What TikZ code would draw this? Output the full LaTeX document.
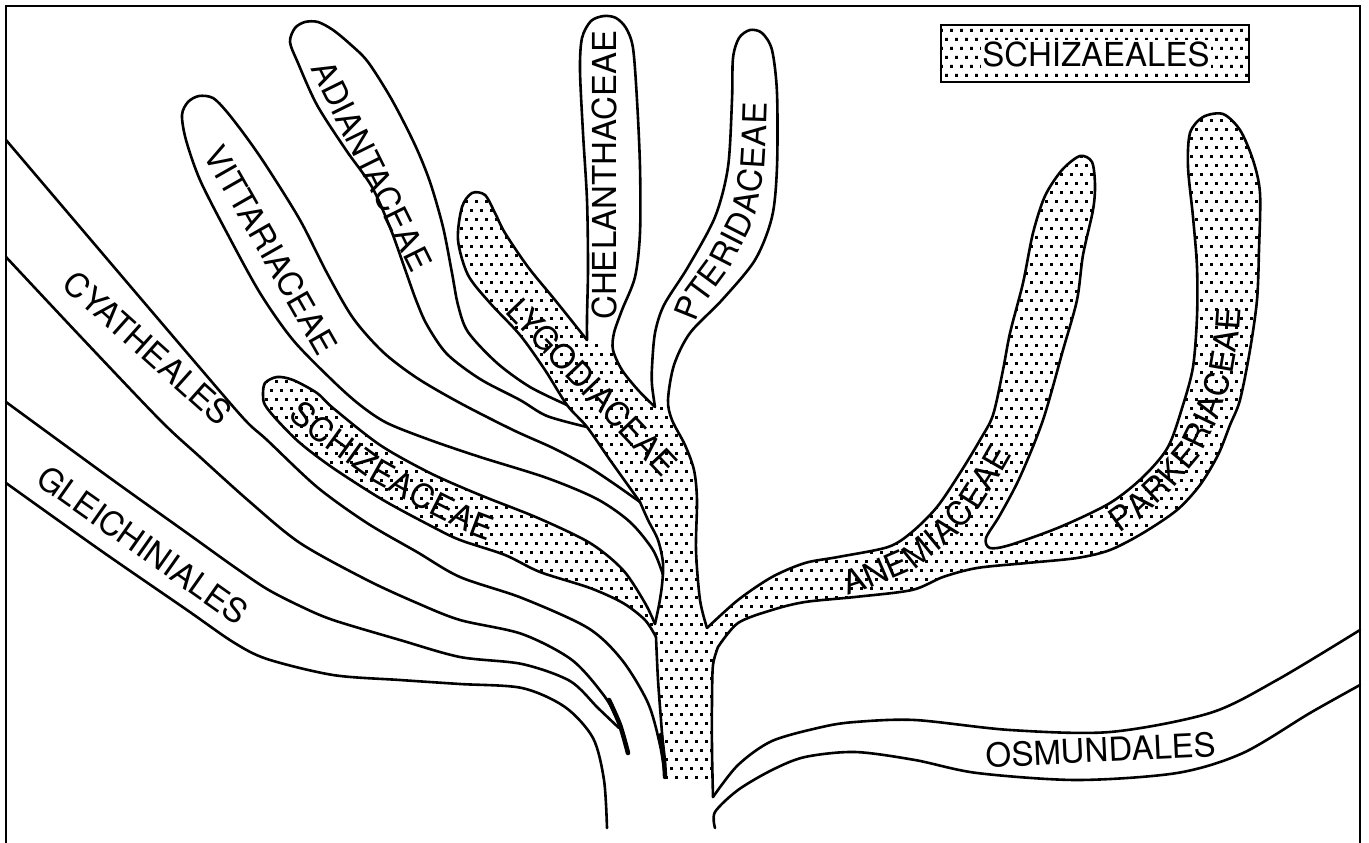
\documentclass[tikz,border=0pt]{standalone}
\usepackage{fontspec}
\setsansfont{TeX Gyre Heros}
\usetikzlibrary{decorations.text}
\newcommand\lbl{\sffamily\fontsize{33}{36}\selectfont}
\tikzset{
  lin/.style={line width=2.6pt, line join=round, line cap=round},
  lab/.style={font=\lbl, inner sep=0pt},
  curvlab/.style={decorate, decoration={text along path, text={|\lbl|#1}, text align=center, raise=-12pt}}
}
% rows of stipple dots: #1 = y list, #2 = x list
\newcommand\stiprows[2]{\foreach \yy in {#1} {\fill \foreach \xx in {#2} {(\xx,\yy) rectangle +(2.8,2.8)};}}
\begin{document}
\begin{tikzpicture}[x=1pt,y=-1pt]
\useasboundingbox (0,0) rectangle (1369,843);
% ---------- stippled regions ----------
\begin{scope}
\clip plot[smooth] coordinates {(640,502) (610,460) (587,427) (567,405) (545,370) (520,335) (490,303) (468,275) (458,240) (462,207) (472,193) (485,195) (495,213) (505,233) (528,267) (555,300) (587,340)}
  -- plot[smooth] coordinates {(613,350) (622,370) (638,390) (655,407)}
  -- plot[smooth] coordinates {(668,402) (672,420) (685,445) (694,470) (697,500) (696,550) (700,600) (707,628)}
  -- plot[smooth] coordinates {(707,628) (738,600) (772,577) (805,563) (838,557) (888,547) (912,532) (937,507) (960,473) (980,440) (993,415) (1003,370) (1010,333) (1023,283) (1033,233) (1045,196) (1062,170) (1080,156) (1092,162) (1095,185) (1093,210) (1083,255) (1077,300) (1063,350) (1043,420) (1020,477) (1000,515) (986,538) (990,548) (1010,545) (1060,527) (1110,503) (1143,477) (1168,447) (1183,405) (1193,367) (1197,317) (1197,267) (1193,217) (1188,167) (1190,133) (1203,117) (1223,114) (1240,130) (1253,160) (1260,193) (1259,250) (1257,300) (1250,350) (1240,400) (1230,425) (1218,455) (1200,485) (1177,510) (1143,533) (1110,550) (1077,558) (1027,563) (977,568) (943,577) (912,590) (855,597) (805,602) (772,610) (738,623) (718,647)}
  -- plot[smooth] coordinates {(718,647) (713,665) (712,700) (712,750) (713,780)}
  -- (665,780)
  -- plot[smooth] coordinates {(665,777) (664,760) (661,720) (658,680) (656,637)}
  -- plot[smooth] coordinates {(655,624) (659,605) (662,585) (663,563) (658,540) (648,520) (640,502)} -- cycle;
\stiprows{191,209,...,425}{460,470,...,600}
\stiprows{200,218,...,416}{455,465,...,605}
\stiprows{335,353,...,785}{560,570,...,720}
\stiprows{344,362,...,776}{565,575,...,715}
\stiprows{443,461,...,659}{730,740,...,1270}
\stiprows{452,470,...,650}{725,735,...,1265}
\stiprows{155,173,...,443}{940,950,...,1100}
\stiprows{164,182,...,434}{935,945,...,1105}
\stiprows{119,137,...,443}{1180,1190,...,1270}
\stiprows{110,128,...,434}{1175,1185,...,1265}
\end{scope}
\begin{scope}
\clip plot[smooth] coordinates {(656,637) (645,620) (623,603) (590,588) (540,572) (505,555) (460,540) (433,527) (383,500) (333,468) (300,443) (277,420) (265,405) (263,395) (265,383) (277,377) (293,380) (317,393) (333,408) (380,445) (430,473) (480,495) (538,518) (590,543) (623,570) (645,603) (655,624)} -- cycle;
\stiprows{371,389,...,551}{260,270,...,480}
\stiprows{380,398,...,560}{265,275,...,485}
\stiprows{497,515,...,641}{480,490,...,660}
\stiprows{488,506,...,632}{485,495,...,655}
\end{scope}
\begin{scope}
\clip (941,25) rectangle (1249,82);
\stiprows{29,47,...,83}{940,950,...,1250}
\stiprows{20,38,...,74}{945,955,...,1245}
\end{scope}
% ---------- frame ----------
\draw[line width=1.4pt] (6,843) -- (6,6) -- (1360,6) -- (1360,843);
\draw[line width=1.8pt] (941,25) rectangle (1249,82);
% ---------- outlines ----------
\draw[lin] plot[smooth] coordinates {(640,502) (610,460) (587,427) (567,405) (545,370) (520,335) (490,303) (468,275) (458,240) (462,207) (472,193) (485,195) (495,213) (505,233) (528,267) (555,300) (587,340)};
\draw[lin] plot[smooth] coordinates {(587,340) (587,317) (588,267) (587,200) (583,133) (580,70) (582,38) (591,21) (604,16) (616,18) (626,28) (633,48) (637,100) (640,167) (640,233) (635,277) (622,310) (614,333) (613,350) (622,370) (638,390) (655,407)};
\draw[lin] plot[smooth] coordinates {(655,407) (652,385) (652,367) (655,333) (664,305) (688,267) (715,217) (728,167) (732,100) (733,58) (739,38) (750,30) (762,33) (772,50) (777,93) (777,167) (772,217) (755,260) (722,300) (690,333) (674,365) (668,400) (672,420) (685,445) (694,470) (697,500) (696,550) (700,600) (707,628)};
\draw[lin] plot[smooth] coordinates {(707,628) (738,600) (772,577) (805,563) (838,557) (888,547) (912,532) (937,507) (960,473) (980,440) (993,415) (1003,370) (1010,333) (1023,283) (1033,233) (1045,196) (1062,170) (1080,156) (1092,162) (1095,185) (1093,210) (1083,255) (1077,300) (1063,350) (1043,420) (1020,477) (1000,515) (986,538) (990,548) (1010,545) (1060,527) (1110,503) (1143,477) (1168,447) (1183,405) (1193,367) (1197,317) (1197,267) (1193,217) (1188,167) (1190,133) (1203,117) (1223,114) (1240,130) (1253,160) (1260,193) (1259,250) (1257,300) (1250,350) (1240,400) (1230,425) (1218,455) (1200,485) (1177,510) (1143,533) (1110,550) (1077,558) (1027,563) (977,568) (943,577) (912,590) (855,597) (805,602) (772,610) (738,623) (718,647)};
\draw[lin] plot[smooth] coordinates {(718,647) (713,665) (712,700) (712,750) (713,797)};
\draw[lin] plot[smooth] coordinates {(713,797) (738,765) (772,741) (822,727) (855,722) (915,720) (1010,730) (1110,732) (1210,713) (1277,680) (1360,630)};
\draw[lin] plot[smooth] coordinates {(715,828) (715,812) (738,790) (772,770) (805,757) (855,752) (915,760) (977,773) (1077,780) (1177,773) (1243,753) (1310,713) (1360,685)};
\draw[lin] plot[smooth] coordinates {(640,502) (648,520) (658,540) (663,563) (662,585) (659,605) (655,624)};
\draw[lin] plot[smooth] coordinates {(656,637) (658,680) (661,720) (664,760) (665,777)};
\draw[lin] plot[smooth] coordinates {(656,637) (645,620) (623,603) (590,588) (540,572) (505,555) (460,540) (433,527) (383,500) (333,468) (300,443) (277,420) (265,405) (263,395) (265,383) (277,377) (293,380) (317,393) (333,408) (380,445) (430,473) (480,495) (538,518) (590,543) (623,570) (645,603) (655,624)};
% Vittariaceae
\draw[lin] plot[smooth] coordinates {(663,575) (653,550) (630,522) (597,499) (547,478) (480,457) (430,440) (387,423) (360,405) (333,381) (293,340) (260,293) (227,233) (200,180) (186,140) (182,115) (188,102) (199,96) (213,98) (227,112) (247,138) (267,167) (300,220) (327,273) (353,318) (383,352) (417,378) (460,403) (513,430) (553,448) (587,466) (613,483) (640,502)};
% Adiantaceae
\draw[lin] plot[smooth] coordinates {(587,427) (547,416) (520,400) (480,379) (447,354) (427,325) (416,300) (406,272) (391,230) (372,187) (346,150) (317,105) (298,63) (290,42) (295,28) (305,22) (318,22) (333,30) (350,44) (368,62) (392,100) (415,145) (430,182) (443,227) (452,273) (458,305) (468,332) (497,363) (530,387) (567,405)};
% left bands
\draw[lin] plot[smooth] coordinates {(6,140) (125,280) (200,368) (245,420) (267,440) (317,487) (367,523) (417,552) (460,577) (522,598) (588,628) (622,660) (648,703) (660,745) (665,777)};
\draw[lin] plot[smooth] coordinates {(6,257) (80,336) (160,420) (200,457) (250,502) (300,543) (367,580) (417,603) (460,620) (522,634) (572,660) (605,697) (620,725) (628,753)};
\draw[lin] plot[smooth] coordinates {(6,402) (110,478) (187,533) (233,566) (267,589) (300,606) (333,620) (400,640) (460,657) (522,664) (570,681) (598,708) (619,728)};
\draw[lin] plot[smooth] coordinates {(6,483) (100,550) (187,610) (233,642) (267,659) (333,675) (400,680) (460,684) (522,688) (565,707) (593,738) (604,780) (607,828)};
\draw[lin, line width=4.6pt] plot[smooth] coordinates {(609,700) (620,725) (628,753)};
\draw[lin, line width=4.4pt] plot[smooth] coordinates {(661,735) (664,760) (665,777)};
% ---------- labels ----------
\node[lab, rotate=-41.8] (cyath) at (148,348) {CYATHEALES};
\node[lab, rotate=-35.2] (gleich) at (143,545) {GLEICHINIALES};
\node[lab, rotate=-60.3] (vitt) at (271,250) {VITTARIACEAE};
\node[lab, rotate=-63.7] (adiant) at (372,166) {ADIANTACEAE};
\node[lab, rotate=90] (chel) at (604,175) {CHELANTHACEAE};
\node[lab, rotate=-46.5] (lygo) at (592,387) {LYGODIACEAE};
\node[lab, rotate=2.7] (osm) at (1101,750) {OSMUNDALES};
\node[lab, fill=white, inner sep=1pt] (legend) at (1096,54) {SCHIZAEALES};
\begin{scope}[transform canvas={shift={(680,330)}}]
\path[curvlab=PTERIDACEAE] (0,0) -- (12,-30) -- (40,-68) -- (63,-113) -- (72,-160) -- (75,-210) -- (76,-240);
\end{scope}
\begin{scope}[transform canvas={shift={(272,390)}}]
\path[curvlab=SCHIZEACEAE] (0,0) -- (28,22) -- (61,48) -- (108,82) -- (158,110) -- (208,135) -- (248,150);
\end{scope}
\begin{scope}[transform canvas={shift={(825,590)}}]
\path[curvlab=ANEMIACEAE] (0,0) -- (45,-15) -- (87,-33) -- (120,-60) -- (147,-92) -- (168,-125) -- (187,-158);
\end{scope}
\begin{scope}[transform canvas={shift={(1100,533)}}]
\path[curvlab=PARKERIACEAE] (0,0) -- (35,-25) -- (65,-53) -- (90,-83) -- (107,-118) -- (120,-158) -- (127,-198) -- (130,-241);
\end{scope}
\end{tikzpicture}
\end{document}
